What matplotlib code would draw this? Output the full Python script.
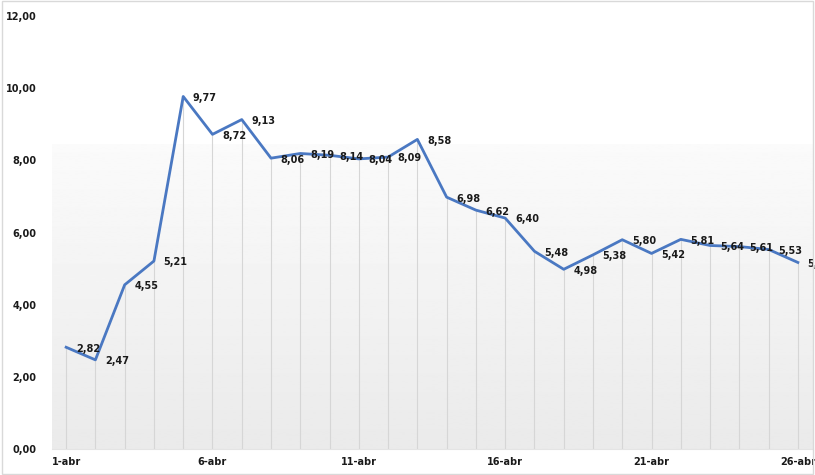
import matplotlib
matplotlib.use("Agg")
import matplotlib.pyplot as plt
import numpy as np
from matplotlib.patches import Rectangle

# Data
days = [f"{d}-abr" for d in range(1, 27)]
values = [2.82, 2.47, 4.55, 5.21, 9.77, 8.72, 9.13, 8.06, 8.19, 8.14, 8.04, 8.09, 8.58,
          6.98, 6.62, 6.40, 5.48, 4.98, 5.38, 5.80, 5.42, 5.81, 5.64, 5.61, 5.53, 5.17]
yticks = [0, 2, 4, 6, 8, 10, 12]

LINE_COLOR = "#4a78c2"
TEXT_COLOR = "#1a1a1a"

fig = plt.figure(figsize=(8.15, 4.75), dpi=100)
ax = fig.add_axes([51.5 / 815, 26 / 475, 761 / 815, 433 / 475])

x = np.arange(len(values))

# background gradient (white above ~8.45, light gray at bottom)
grad = np.linspace(0.918, 0.982, 256).reshape(-1, 1)
ax.imshow(grad, extent=[-0.5, len(values) - 0.5, 0, 8.45], origin="lower",
          cmap="gray", vmin=0, vmax=1, aspect="auto", zorder=0)

# drop lines
ax.vlines(x, 0, values, color="#d6d6d6", linewidth=0.8, zorder=1)

ax.plot(x, values, color=LINE_COLOR, linewidth=2, zorder=3)

for xi, v in zip(x, values):
    ax.annotate(f"{v:.2f}".replace(".", ","), (xi, v), xytext=(7, -1),
                textcoords="offset points", ha="left", va="center",
                fontsize=7, fontweight="bold", color=TEXT_COLOR,
                annotation_clip=False, zorder=4)

ax.set_xlim(-0.5, len(values) - 0.5)
ax.set_ylim(0, 12)
ax.set_yticks(yticks)
ax.set_yticklabels([f"{t:.2f}".replace(".", ",") for t in yticks])
tick_idx = list(range(0, len(values), 5))
ax.set_xticks(tick_idx)
ax.set_xticklabels([days[i] for i in tick_idx])

for lbl in ax.get_xticklabels() + ax.get_yticklabels():
    lbl.set_fontweight("bold")
    lbl.set_fontsize(7)
    lbl.set_color(TEXT_COLOR)

ax.tick_params(axis="both", length=0)
ax.tick_params(axis="y", pad=11)
ax.tick_params(axis="x", pad=6)
for s in ["top", "right", "left"]:
    ax.spines[s].set_visible(False)
ax.spines["bottom"].set_color("#e4e4e4")
ax.spines["bottom"].set_linewidth(0.8)

# outer border
fig.patches.append(Rectangle((0.003, 0.003), 0.994, 0.994, transform=fig.transFigure,
                             fill=False, edgecolor="#d9d9d9", linewidth=1))

fig.savefig("out.png", dpi=100)
